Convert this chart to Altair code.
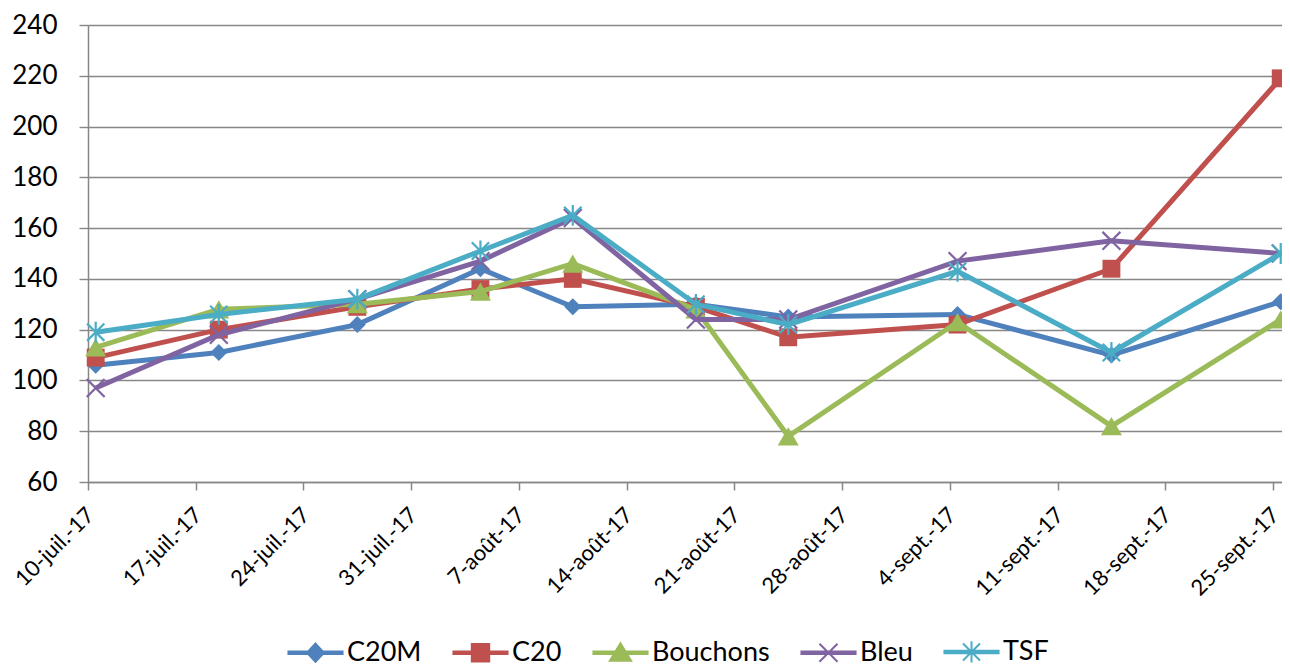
import altair as alt
import pandas as pd

# ---------------- data ----------------
series = ["C20M", "C20", "Bouchons", "Bleu", "TSF"]
colors = ["#4F81BD", "#C0504D", "#9BBB59", "#8064A2", "#4BACC6"]

dates = ["2017-07-10T12:00:00", "2017-07-18T12:00:00", "2017-07-27T12:00:00",
         "2017-08-04T12:00:00", "2017-08-10T12:00:00", "2017-08-18T12:00:00",
         "2017-08-24T12:00:00", "2017-09-04T12:00:00", "2017-09-14T12:00:00",
         "2017-09-25T12:00:00"]
c20m = [106, 111, 122, 144, 129, 130, 125, 126, 110, 131]
c20 = [109, 120, 129, 136, 140, 129, 117, 122, 144, 219]
bouchons = [113, 128, 130, 135, 146, 128, 78, 123, 82, 124]
bleu = [97, 118, 132, 147, 164, 124, 124, 147, 155, 150]
tsf = [119, 126, 132, 151, 165, 130, 122, 143, 111, 150]

x_ticks = ["2017-07-10", "2017-07-17", "2017-07-24", "2017-07-31", "2017-08-07",
           "2017-08-14", "2017-08-21", "2017-08-28", "2017-09-04", "2017-09-11",
           "2017-09-18", "2017-09-25"]
x_tick_labels = ["10-juil.-17", "17-juil.-17", "24-juil.-17", "31-juil.-17",
                 "7-août-17", "14-août-17", "21-août-17", "28-août-17",
                 "4-sept.-17", "11-sept.-17", "18-sept.-17", "25-sept.-17"]
y_ticks = [60, 80, 100, 120, 140, 160, 180, 200, 220, 240]

values = {"C20M": c20m, "C20": c20, "Bouchons": bouchons, "Bleu": bleu, "TSF": tsf}
rows = []
for s in series:
    for d, v in zip(dates, values[s]):
        rows.append({"date": d, "value": v, "series": s})
df = pd.DataFrame(rows)

# ---------------- styling ----------------
FONT = "Lato"
GRID = "#878787"

X_PATH = "M-1,-1L1,1M-1,1L1,-1"
STAR_PATH = "M-1,-1L1,1M-1,1L1,-1M0,-1.2L0,1.2"
plot_shape = {"C20M": "diamond", "C20": "square", "Bouchons": "triangle-up",
              "Bleu": X_PATH, "TSF": STAR_PATH}
plot_size = {"C20M": 290, "C20": 320, "Bouchons": 441, "Bleu": 320, "TSF": 300}
plot_filled = {"C20M": True, "C20": True, "Bouchons": True, "Bleu": False, "TSF": False}

LINE = "M-2.55,-0.12L2.55,-0.12L2.55,0.12L-2.55,0.12Z"
legend_paths = [
    LINE + "M0,-0.86L0.8,0L0,0.86L-0.8,0Z",
    LINE + "M-0.82,-0.82L0.82,-0.82L0.82,0.82L-0.82,0.82Z",
    LINE + "M0,-0.9L1,0.75L-1,0.75Z",
    LINE + "M-0.85,-0.85L0.85,0.85M-0.85,0.85L0.85,-0.85",
    LINE + "M-0.8,-0.8L0.8,0.8M-0.8,0.8L0.8,-0.8M0,-1L0,1",
]


def dt(s, hours=0):
    t = pd.Timestamp(s)
    return alt.DateTime(year=t.year, month=t.month, date=t.day, hours=hours)


label_expr = ("[" + ",".join("'" + l + "'" for l in x_tick_labels) + "]"
              "[round((datum.value - datetime(2017, 6, 10)) / 604800000)]")

x_enc = alt.X(
    "date:T",
    scale=alt.Scale(domain=[dt(x_ticks[0], 0), dt(x_ticks[-1], 14)]),
    axis=alt.Axis(
        values=[dt(t) for t in x_ticks],
        labelExpr=label_expr,
        labelAngle=-45, labelAlign="right", labelBaseline="middle",
        labelFont=FONT, labelFontSize=22, labelColor="#000000",
        labelPadding=21, labelOffset=2, labelOverlap=False, labelFlush=False,
        grid=False, ticks=True, tickSize=8, tickColor=GRID, tickWidth=1.5,
        domainColor=GRID, domainWidth=1.5, title=None,
    ),
)
y_enc = alt.Y(
    "value:Q",
    scale=alt.Scale(domain=[60, 240], nice=False, zero=False),
    axis=alt.Axis(
        values=y_ticks, grid=True, gridColor=GRID, gridWidth=1.4,
        tickSize=9, tickColor=GRID, tickWidth=1.4,
        domainColor=GRID, domainWidth=1.5,
        labelFont=FONT, labelFontSize=26, labelColor="#000000", labelPadding=22,
        title=None,
    ),
)

base = alt.Chart(df)
layers = []
for i, s in enumerate(series):
    sub = base.transform_filter(alt.datum.series == s)
    line = sub.mark_line(color=colors[i], strokeWidth=5).encode(x=x_enc, y=y_enc)
    pts = sub.mark_point(
        shape=plot_shape[s], size=plot_size[s], filled=plot_filled[s],
        color=colors[i], opacity=1, strokeWidth=2.2,
    ).encode(x=x_enc, y=y_enc)
    layers += [line, pts]

leg = alt.Legend(
    title=None, orient="none", direction="horizontal",
    legendX=214, legendY=613,
    labelFont=FONT, labelFontSize=27, labelColor="#000000",
    symbolSize=450, symbolStrokeWidth=2, labelOffset=18, columnPadding=27,
)
legend_layer = (
    alt.Chart(df)
    .transform_filter("false")
    .mark_point(filled=False, opacity=1, strokeWidth=2)
    .encode(
        color=alt.Color("series:N", scale=alt.Scale(domain=series, range=colors), legend=leg),
        fill=alt.Fill("series:N", scale=alt.Scale(domain=series, range=colors), legend=leg),
        shape=alt.Shape("series:N", scale=alt.Scale(domain=series, range=legend_paths), legend=leg),
    )
)
layers.append(legend_layer)

chart = (
    alt.layer(*layers)
    .properties(
        width=1194, height=457,
        autosize=alt.AutoSizeParams(type="none"),
        padding={"left": 80, "top": 17, "right": 0, "bottom": 184},
        background="white",
    )
    .configure_view(stroke=None)
)

chart.save("out.html", embed_options={"renderer": "svg", "actions": False})
